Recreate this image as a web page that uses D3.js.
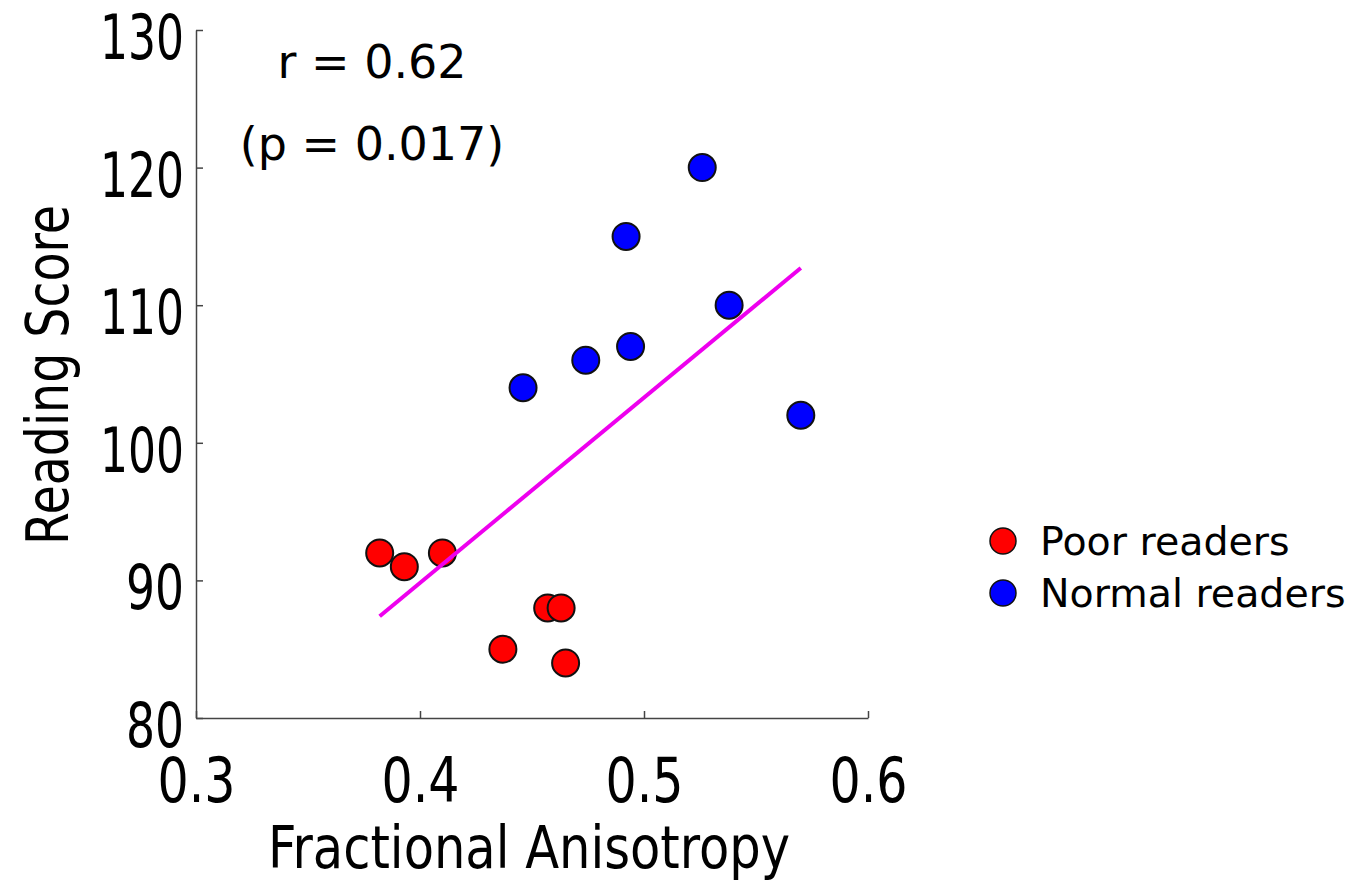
<!DOCTYPE html>
<html><head><meta charset="utf-8">
<script src="https://cdn.jsdelivr.net/npm/d3@7"></script>
<style>
html,body{margin:0;padding:0;background:#fff;}
text{font-family:"Comic Sans MS","DejaVu Sans",sans-serif;fill:#000;}
.cond{font-family:"DejaVu Sans Condensed","DejaVu Sans",sans-serif;font-stretch:condensed;}
</style>
</head><body>
<svg id="chart" width="1368" height="893"></svg>
<script>
const poorFA = [0.382, 0.393, 0.410, 0.437, 0.457, 0.463, 0.465];
const poorScore = [92, 91, 92, 85, 88, 88, 84];
const normalFA = [0.446, 0.474, 0.494, 0.492, 0.526, 0.538, 0.570];
const normalScore = [104, 106, 107, 115, 120, 110, 102];
const fitX = [0.382, 0.570];
const fitY = [87.4, 112.7];
const xTicks = [0.3, 0.4, 0.5, 0.6];
const yTicks = [80, 90, 100, 110, 120, 130];
const seriesNames = ["Poor readers", "Normal readers"];
const seriesColors = ["#ff0000", "#0000ff"];

const svg = d3.select("#chart");
const x = d3.scaleLinear().domain([0.3, 0.6]).range([196, 868]);
const y = d3.scaleLinear().domain([80, 130]).range([718, 30]);

// axes
const axisColor = "#444";
const xAxis = svg.append("g").attr("transform", "translate(0,718)")
  .call(d3.axisBottom(x).tickValues(xTicks).tickSize(-7).tickFormat(d3.format(".1f")).tickSizeOuter(0));
const yAxis = svg.append("g").attr("transform", "translate(196,0)")
  .call(d3.axisLeft(y).tickValues(yTicks).tickSize(-7).tickFormat(d3.format("d")).tickSizeOuter(0));
[xAxis, yAxis].forEach(g => {
  g.select(".domain").attr("stroke", axisColor).attr("stroke-width", 1.5);
  g.selectAll(".tick line").attr("stroke", axisColor).attr("stroke-width", 1.5);
  g.selectAll(".tick text").attr("class", "cond").style("font-size", "62px").attr("fill", "#000");
});
xAxis.selectAll(".tick text").attr("dy", null).attr("y", 84);
yAxis.selectAll(".tick text").attr("x", -12).attr("dy", "0.46em");
xAxis.selectAll(".tick text").attr("textLength", 78).attr("lengthAdjust", "spacingAndGlyphs");
yAxis.selectAll(".tick text").attr("textLength", d => d >= 100 ? 84 : 58).attr("lengthAdjust", "spacingAndGlyphs");

// points
const poor = poorFA.map((v, i) => ({fa: v, s: poorScore[i]}));
const normal = normalFA.map((v, i) => ({fa: v, s: normalScore[i]}));
[[poor, seriesColors[0]], [normal, seriesColors[1]]].forEach(([data, col]) => {
  svg.append("g").selectAll("circle").data(data).join("circle")
    .attr("cx", d => x(d.fa)).attr("cy", d => y(d.s)).attr("r", 13.5)
    .attr("fill", col).attr("stroke", "#111").attr("stroke-width", 2);
});

// fit line
svg.append("line")
  .attr("x1", x(fitX[0])).attr("y1", y(fitY[0]))
  .attr("x2", x(fitX[1])).attr("y2", y(fitY[1]))
  .attr("stroke", "#ee00ee").attr("stroke-width", 4);

// annotation
svg.append("text").attr("x", 372).attr("y", 78).attr("text-anchor", "middle")
  .style("font-size", "46px").text("r = 0.62");
svg.append("text").attr("x", 372).attr("y", 160).attr("text-anchor", "middle")
  .style("font-size", "46px").text("(p = 0.017)");

// axis titles
svg.append("text").attr("class", "cond").attr("x", 529).attr("y", 868).attr("text-anchor", "middle")
  .style("font-size", "58px").attr("textLength", 522).attr("lengthAdjust", "spacingAndGlyphs")
  .text("Fractional Anisotropy");
svg.append("text").attr("class", "cond").attr("transform", "translate(68,375) rotate(-90)")
  .attr("text-anchor", "middle").style("font-size", "58px")
  .attr("textLength", 340).attr("lengthAdjust", "spacingAndGlyphs")
  .text("Reading Score");

// legend
const leg = svg.append("g");
seriesNames.forEach((name, i) => {
  const cy = 541 + i * 52;
  leg.append("circle").attr("cx", 1003).attr("cy", cy).attr("r", 13)
    .attr("fill", seriesColors[i]).attr("stroke", "#111").attr("stroke-width", 1.5);
  leg.append("text").attr("x", 1040).attr("y", cy + 14).style("font-size", "39.5px").text(name);
});
</script>
</body></html>
